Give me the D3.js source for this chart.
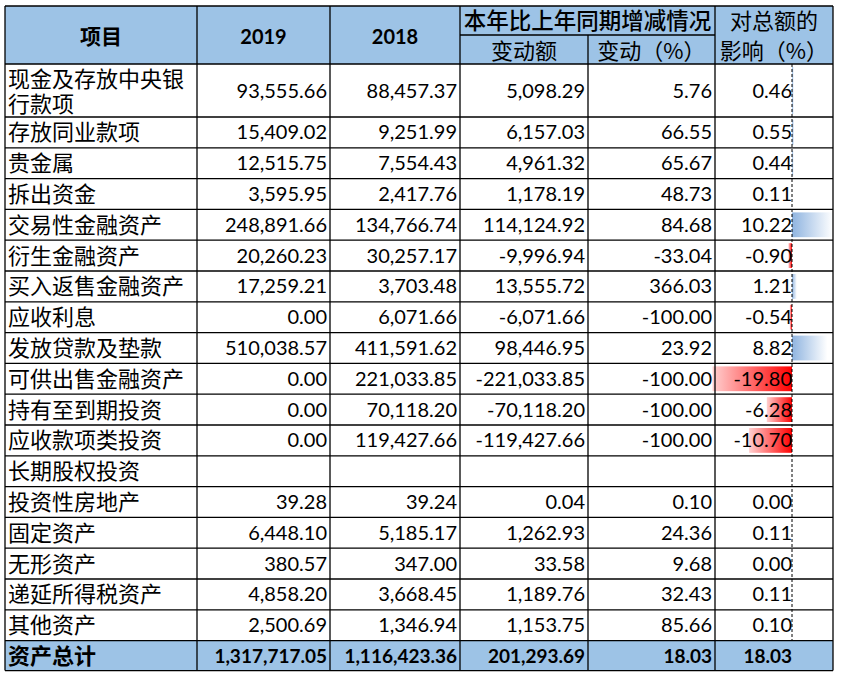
<!DOCTYPE html>
<html><head><meta charset="utf-8">
<script src="https://cdn.jsdelivr.net/npm/d3@7"></script>
<style>body{margin:0;background:#fff}</style></head>
<body><svg id="c" width="842" height="682"></svg>
<script>
const items=["现金及存放中央银行款项","存放同业款项","贵金属","拆出资金","交易性金融资产","衍生金融资产","买入返售金融资产","应收利息","发放贷款及垫款","可供出售金融资产","持有至到期投资","应收款项类投资","长期股权投资","投资性房地产","固定资产","无形资产","递延所得税资产","其他资产"];
const v2019=["93,555.66","15,409.02","12,515.75","3,595.95","248,891.66","20,260.23","17,259.21","0.00","510,038.57","0.00","0.00","0.00","","39.28","6,448.10","380.57","4,858.20","2,500.69"];
const v2018=["88,457.37","9,251.99","7,554.43","2,417.76","134,766.74","30,257.17","3,703.48","6,071.66","411,591.62","221,033.85","70,118.20","119,427.66","","39.24","5,185.17","347.00","3,668.45","1,346.94"];
const change=["5,098.29","6,157.03","4,961.32","1,178.19","114,124.92","-9,996.94","13,555.72","-6,071.66","98,446.95","-221,033.85","-70,118.20","-119,427.66","","0.04","1,262.93","33.58","1,189.76","1,153.75"];
const changePct=["5.76","66.55","65.67","48.73","84.68","-33.04","366.03","-100.00","23.92","-100.00","-100.00","-100.00","","0.10","24.36","9.68","32.43","85.66"];
const impact=[0.46,0.55,0.44,0.11,10.22,-0.90,1.21,-0.54,8.82,-19.80,-6.28,-10.70,null,0.00,0.11,0.00,0.11,0.10];
const total=["资产总计","1,317,717.05","1,116,423.36","201,293.69","18.03","18.03"];
const headers=["项目","2019","2018"];

const svg=d3.select("#c");
const cols=[5,197,330,460,588,715,833];
const hdrTop=6,hdrBot=64;
const rowTops=[64,117];
for(let i=1;i<items.length;i++)rowTops.push(117+i*30.8);
const totTop=rowTops[items.length], totBot=totTop+30;
const cn="'Noto Sans CJK SC',sans-serif", num="Lato,'Liberation Sans',sans-serif";
const defs=svg.append("defs");
const gp=defs.append("linearGradient").attr("id","gp");
gp.append("stop").attr("offset","0").attr("stop-color","#8fb4e0");
gp.append("stop").attr("offset","1").attr("stop-color","#ffffff");
const gn=defs.append("linearGradient").attr("id","gn");
gn.append("stop").attr("offset","0").attr("stop-color","#ffd0d0");
gn.append("stop").attr("offset","1").attr("stop-color","#ff0000");

svg.append("rect").attr("x",cols[0]).attr("y",hdrTop).attr("width",cols[6]-cols[0]).attr("height",hdrBot-hdrTop).attr("fill","#9dc3e6");
svg.append("rect").attr("x",cols[0]).attr("y",totTop).attr("width",cols[6]-cols[0]).attr("height",totBot-totTop).attr("fill","#9dc3e6");

const x=d3.scaleLinear().domain([0,10.22]).range([792,833]);
items.forEach((d,i)=>{
  const v=impact[i]; if(v==null||v===0)return;
  const y0=rowTops[i]+3,h=(rowTops[i+1]-rowTops[i])-6;
  const xa=x(Math.min(0,v)),xb=x(Math.max(0,v));
  svg.append("rect").attr("x",xa).attr("y",y0).attr("width",xb-xa).attr("height",h).attr("fill",v>0?"url(#gp)":"url(#gn)");
});
svg.append("line").attr("x1",792).attr("x2",792).attr("y1",hdrBot).attr("y2",totTop).attr("stroke","#000").attr("stroke-dasharray","3,2").attr("stroke-width",1);

const ln=(x1,y1,x2,y2)=>svg.append("line").attr("x1",x1).attr("y1",y1).attr("x2",x2).attr("y2",y2).attr("stroke","#000").attr("stroke-width",1.3);
ln(cols[0],hdrTop,cols[6],hdrTop);
ln(cols[3],35,cols[5],35);
rowTops.forEach(y=>ln(cols[0],y,cols[6],y));
ln(cols[0],totBot,cols[6],totBot);
cols.forEach((c,j)=>{
  if(j===4){ln(c,35,c,totBot);}else ln(c,hdrTop,c,totBot);
});

const t=(xx,yy,s,anchor,font,weight,size)=>svg.append("text").attr("x",xx).attr("y",yy).attr("text-anchor",anchor).attr("font-family",font).attr("font-weight",weight||"normal").attr("font-size",size||19).attr("fill","#000").text(s);
t((cols[0]+cols[1])/2,44,headers[0],"middle",cn,"bold",21);
t((cols[1]+cols[2])/2,44,headers[1],"middle",num,"bold",20);
t((cols[2]+cols[3])/2,44,headers[2],"middle",num,"bold",20);
t((cols[3]+cols[5])/2,29,"本年比上年同期增减情况","middle",cn,"500",22.5);
t((cols[3]+cols[4])/2,59,"变动额","middle",cn,"normal",22);
t((cols[4]+cols[5])/2,59,"变动（%）","middle",cn,"normal",22);
t((cols[5]+cols[6])/2,29,"对总额的","middle",cn,"normal",22);
t((cols[5]+cols[6])/2,59,"影响（%）","middle",cn,"normal",22);

items.forEach((d,i)=>{
  const top=rowTops[i],bot=rowTops[i+1],mid=(top+bot)/2+7;
  if(i===0){t(cols[0]+3,top+23,d.slice(0,8),"start",cn,"normal",22);t(cols[0]+3,top+48,d.slice(8),"start",cn,"normal",22);}
  else t(cols[0]+3,mid+1,d,"start",cn,"normal",22);
  t(cols[2]-3,mid,v2019[i],"end",num,"normal",20);
  t(cols[3]-3,mid,v2018[i],"end",num,"normal",20);
  t(cols[4]-3,mid,change[i],"end",num,"normal",20);
  t(cols[5]-3,mid,changePct[i],"end",num,"normal",20);
  if(impact[i]!=null)t(792,mid,impact[i].toFixed(2),"end",num,"normal",20);
});
const tm=(totTop+totBot)/2+7;
t(cols[0]+3,tm+1,total[0],"start",cn,"bold",22);
[1,2,3,4].forEach(k=>t(cols[k+1]-3,tm,total[k],"end",num,"bold",19));
t(792,tm,total[5],"end",num,"bold",19);
</script></body></html>
